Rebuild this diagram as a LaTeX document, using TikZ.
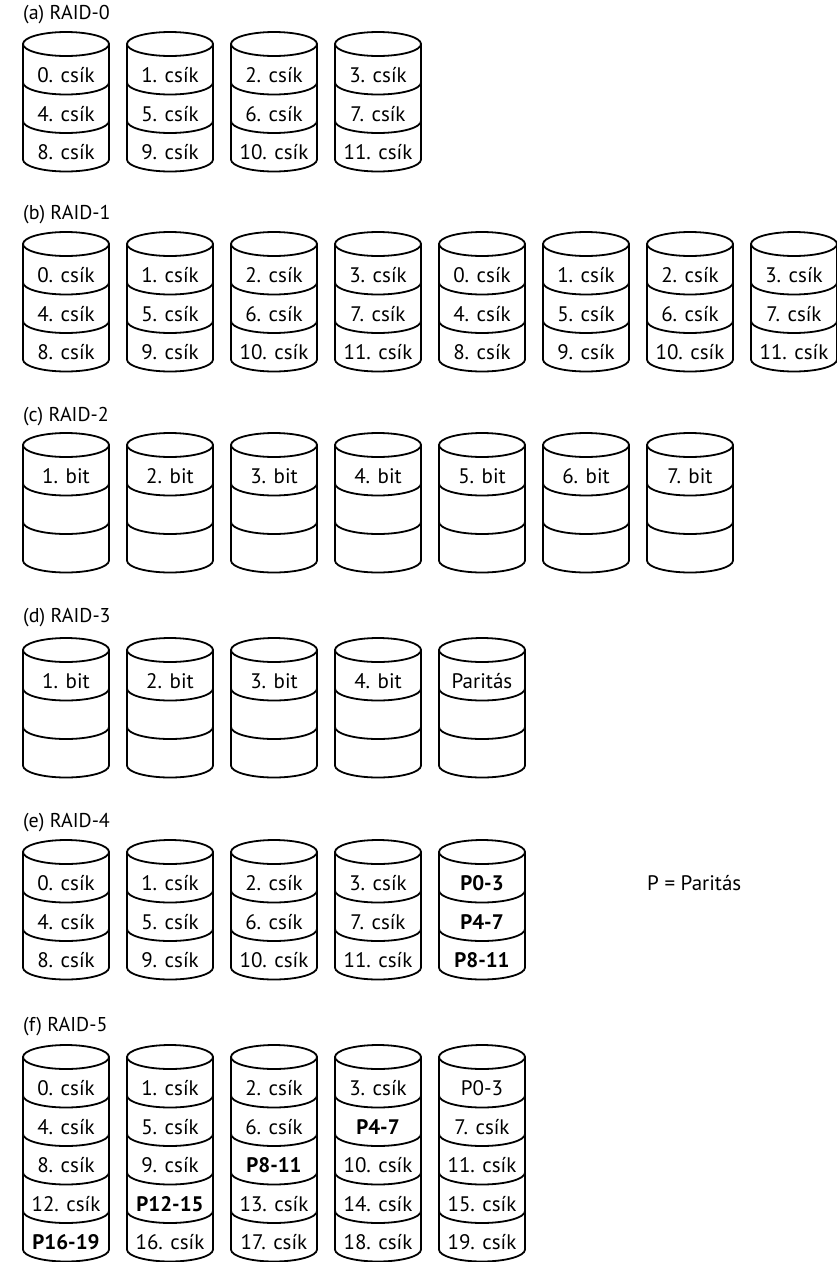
\documentclass[tikz,border=0pt]{standalone}
\usepackage{fontspec}
\setmainfont{PT Sans}
\usetikzlibrary{positioning}
\tikzset{
    disk/.style={line width=1.8pt, line cap=round, line join=round},
    stripe/.style={inner sep=0pt, font=\fontsize{21}{23}\selectfont},
    level/.style={inner sep=0pt, anchor=west, font=\fontsize{20}{22}\selectfont}
}
% #1 name, #2 left edge, #3 top edge, #4 stripes from top to bottom
\newcommand{\raiddisk}[4]{
    \foreach \s [count=\k] in {#4} {
        \draw[disk] (#2, -#3-12-38.5*\k+38.5) -- ++(0,-38.5)
            arc[start angle=180, end angle=360, x radius=43, y radius=12] -- ++(0,38.5);
        \node[stripe] (#1-\k) at (#2+43, -#3-24-38.5*\k+19.25) {\s};
    }
    \draw[disk] (#2+43, -#3-12) ellipse [x radius=43, y radius=12];
}

\begin{document}
\begin{tikzpicture}[x=1pt, y=1pt]
    \useasboundingbox (0,0) rectangle (837,-1262);

    % (a) RAID-0
    \node[level] (raid0) at (23,-15) {(a) RAID-0};
    \foreach \i/\a/\b/\c in {0/0/4/8, 1/1/5/9, 2/2/6/10, 3/3/7/11} {
        \raiddisk{a\i}{23+104*\i}{32}{\a. csík,\b. csík,\c. csík}
    }

    % (b) RAID-1
    \node[level] (raid1) at (23,-215) {(b) RAID-1};
    \foreach \i/\a/\b/\c in {0/0/4/8, 1/1/5/9, 2/2/6/10, 3/3/7/11, 4/0/4/8, 5/1/5/9, 6/2/6/10, 7/3/7/11} {
        \raiddisk{b\i}{23+104*\i}{232}{\a. csík,\b. csík,\c. csík}
    }

    % (c) RAID-2
    \node[level] (raid2) at (23,-417) {(c) RAID-2};
    \foreach \n [count=\i from 0] in {1,...,7} {
        \raiddisk{c\i}{23+104*\i}{433}{\n. bit,{},{}}
    }

    % (d) RAID-3
    \node[level] (raid3) at (23,-618) {(d) RAID-3};
    \foreach \n [count=\i from 0] in {1,...,4} {
        \raiddisk{d\i}{23+104*\i}{638}{\n. bit,{},{}}
    }
    \raiddisk{d4}{439}{638}{Paritás,{},{}}

    % (e) RAID-4
    \node[level] (raid4) at (23,-823) {(e) RAID-4};
    \foreach \i/\a/\b/\c in {0/0/4/8, 1/1/5/9, 2/2/6/10, 3/3/7/11} {
        \raiddisk{e\i}{23+104*\i}{840}{\a. csík,\b. csík,\c. csík}
    }
    \raiddisk{e4}{439}{840}{\textbf{P0-3},\textbf{P4-7},\textbf{P8-11}}
    \node[stripe, anchor=west] (key) at (647,-883) {P = Paritás};

    % (f) RAID-5
    \node[level] (raid5) at (23,-1027) {(f) RAID-5};
    \raiddisk{f0}{23}{1045}{0. csík,4. csík,8. csík,12. csík,\textbf{P16-19}}
    \raiddisk{f1}{127}{1045}{1. csík,5. csík,9. csík,\textbf{P12-15},16. csík}
    \raiddisk{f2}{231}{1045}{2. csík,6. csík,\textbf{P8-11},13. csík,17. csík}
    \raiddisk{f3}{335}{1045}{3. csík,\textbf{P4-7},10. csík,14. csík,18. csík}
    \raiddisk{f4}{439}{1045}{P0-3,7. csík,11. csík,15. csík,19. csík}
\end{tikzpicture}
\end{document}
